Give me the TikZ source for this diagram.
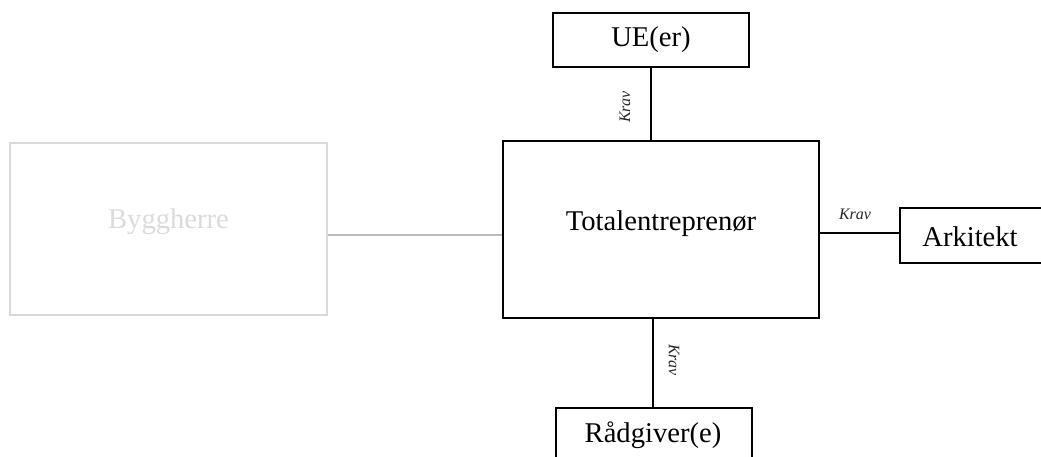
\documentclass[tikz,border=0pt]{standalone}
\usepackage{fontspec}
\setmainfont{Liberation Serif}
\begin{document}
\begin{tikzpicture}[x=1pt,y=-1pt,
  box/.style={draw=black, line width=2pt, rectangle, inner sep=0pt,
    font=\fontsize{28.6}{30}\selectfont, text=black},
  greybox/.style={draw=black!15, line width=2pt, rectangle, inner sep=0pt,
    font=\fontsize{28.6}{30}\selectfont, text=black!14},
  link/.style={draw=black, line width=1.4pt},
  greylink/.style={draw=black!27, line width=1.4pt},
  krav/.style={font=\itshape\fontsize{16}{17}\selectfont, inner sep=0pt, text=black!85}]
  \useasboundingbox (0,0) rectangle (1041,457);
  \clip (0,0) rectangle (1041,457);

  % boxes
  \node[box, minimum width=196pt, minimum height=54pt] (ue) at (651,40) {UE(er)};
  \node[box, minimum width=316pt, minimum height=177pt] (te) at (661,229.5) {};
  \node[box, draw=none] (tetitle) at (661,224) {Totalentreprenør};
  \node[box, minimum width=160pt, minimum height=55pt] (ark) at (980,235.5) {};
  \node[box, draw=none] (arktext) at (970,237) {Arkitekt};
  \node[box, minimum width=196pt, minimum height=56pt] (rad) at (654,436) {};
  \node[box, draw=none] (radtext) at (653,435) {Rådgiver(e)};
  \node[greybox, minimum width=317pt, minimum height=172pt] (bh) at (168.5,229) {};
  \node[greybox, draw=none] (bhtext) at (168.5,222) {Byggherre};

  % connectors
  \draw[link] (ue.south) -- (ue.south |- te.north);
  \draw[link] (rad.north -| radtext) -- (radtext |- te.south);
  \coordinate (arkin) at ([yshift=2.5pt]ark.west);
  \draw[link] (arkin) -- (arkin -| te.east);
  \coordinate (bhout) at ([yshift=-6pt]bh.east);
  \draw[greylink] (bhout) -- (bhout -| te.west);

  % labels
  \node[krav, rotate=90] (k1) at (625,107) {Krav};
  \node[krav] (k2) at (855,214) {Krav};
  \node[krav, rotate=-90] (k3) at (674,360) {Krav};
\end{tikzpicture}
\end{document}
